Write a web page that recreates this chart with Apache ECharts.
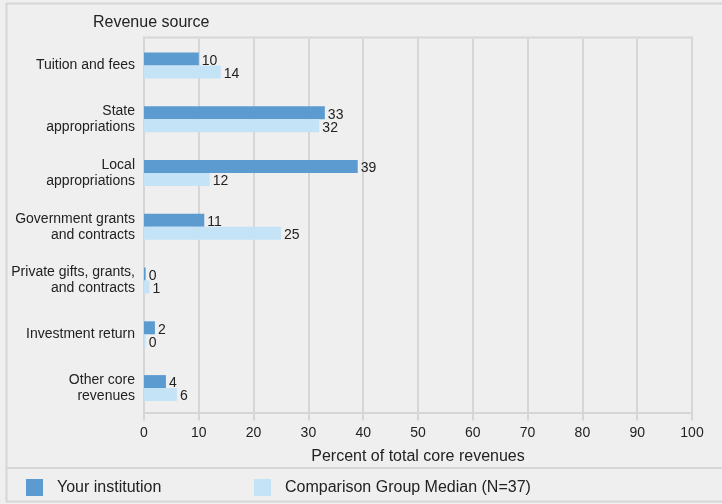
<!DOCTYPE html>
<html>
<head>
<meta charset="utf-8">
<script src="https://cdn.jsdelivr.net/npm/echarts@6/dist/echarts.min.js"></script>
<style>
html,body{margin:0;padding:0;background:#efefef;}
#c{width:722px;height:504px;}
</style>
</head>
<body>
<div id="c"></div>
<script>
var categories = ["Tuition and fees", "State\nappropriations", "Local\nappropriations", "Government grants\nand contracts", "Private gifts, grants,\nand contracts", "Investment return", "Other core\nrevenues"];
var yourInstitution = [10, 33, 39, 11, 0.3, 2, 4];
var comparisonMedian = [14, 32, 12, 25, 1, 0.3, 6];
var seriesNames = ["Your institution", "Comparison Group Median (N=37)"];
var xTicks = [0, 100, 10];

var font = "'Liberation Sans', Arial, sans-serif";
var gridColor = '#d6d6d6';
var chart = echarts.init(document.getElementById('c'));
chart.setOption({
  backgroundColor: '#efefef',
  textStyle: {fontFamily: font, color: '#222'},
  title: {
    text: 'Revenue source', left: 88, top: 10,
    textStyle: {fontFamily: font, fontSize: 16, fontWeight: 'normal', color: '#222'}
  },
  graphic: [
    {type: 'rect', shape: {x: 6.5, y: 3.5, width: 740, height: 498}, style: {fill: 'none', stroke: gridColor, lineWidth: 2}, silent: true},
    {type: 'line', shape: {x1: 6, y1: 468, x2: 722, y2: 468}, style: {stroke: gridColor, lineWidth: 2}, silent: true},
    {type: 'line', shape: {x1: 143, y1: 37.5, x2: 693, y2: 37.5}, style: {stroke: gridColor, lineWidth: 2}, silent: true}
  ],
  legend: [
    {data: [seriesNames[0]], left: 21, top: 474, itemWidth: 17, itemHeight: 17, icon: 'rect',
     textStyle: {fontFamily: font, fontSize: 16, color: '#222', padding: [0, 0, 0, 9]}},
    {data: [seriesNames[1]], left: 249, top: 474, itemWidth: 17, itemHeight: 17, icon: 'rect',
     textStyle: {fontFamily: font, fontSize: 16, color: '#222', padding: [0, 0, 0, 9]}}
  ],
  grid: {left: 144, right: 30, top: 38.5, bottom: 89},
  xAxis: {
    type: 'value', min: xTicks[0], max: xTicks[1], interval: xTicks[2],
    offset: -2.5,
    name: 'Percent of total core revenues', nameLocation: 'middle', nameGap: 36,
    nameTextStyle: {fontFamily: font, fontSize: 16, color: '#222'},
    axisLine: {show: true, lineStyle: {color: gridColor, width: 2}},
    axisTick: {show: true, length: 8, lineStyle: {color: gridColor, width: 2}},
    axisLabel: {fontFamily: font, fontSize: 14, color: '#222', margin: 13.5},
    splitLine: {show: true, lineStyle: {color: gridColor, width: 2}}
  },
  yAxis: {
    type: 'category', data: categories, inverse: true,
    axisLine: {show: true, lineStyle: {color: gridColor, width: 2}},
    axisTick: {show: false},
    axisLabel: {fontFamily: font, fontSize: 14, color: '#222', margin: 9, lineHeight: 16, align: 'right'}
  },
  series: [
    {name: seriesNames[0], type: 'bar', data: yourInstitution, barWidth: 13, barGap: '0%',
     itemStyle: {color: '#5b9bd0'},
     label: {show: true, position: 'right', distance: 3, offset: [0, 2], fontFamily: font, fontSize: 14, color: '#222',
             formatter: function (p) { return Math.round(p.value); }}},
    {name: seriesNames[1], type: 'bar', data: comparisonMedian, barWidth: 13, barGap: '0%',
     itemStyle: {color: '#c5e3f7'},
     label: {show: true, position: 'right', distance: 3, offset: [0, 2], fontFamily: font, fontSize: 14, color: '#222',
             formatter: function (p) { return Math.round(p.value); }}}
  ]
});
</script>
</body>
</html>
